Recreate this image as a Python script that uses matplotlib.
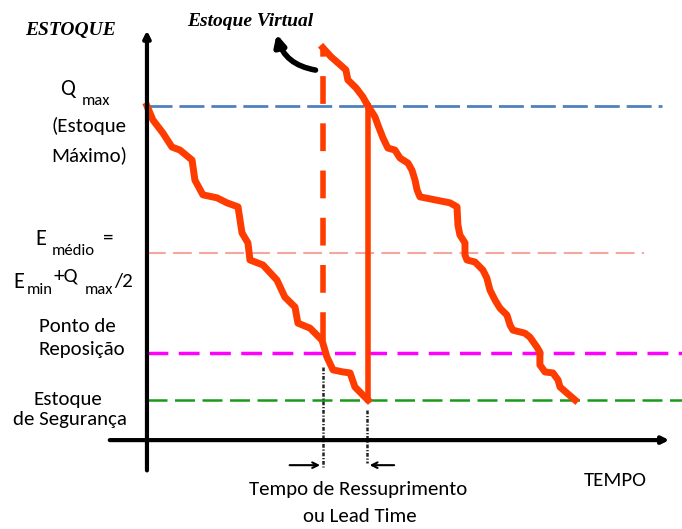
import matplotlib
matplotlib.use("Agg")
import matplotlib.pyplot as plt
import numpy as np

# niveis de estoque (Q max = 100)
q_max = 100
e_medio = 56
ponto_rep = 26
est_seg = 12
virtual_pico = 117.4

# tempo: 1o ciclo termina em 100, pedido em 79.6
t_pedido = 79.6
t_chegada = 100

# ciclo 1 (tempo, estoque)
c1_t = [0, 2.7, 7.2, 11.3, 14.9, 20.4, 21.7, 25.3, 31.7, 36.2, 41.2, 43.0, 45.7, 46.6,
        52.5, 58.8, 62.4, 67.0, 68.3, 73.8, 79.2, 81.4, 84.2, 88.7, 91.9, 94.1, 97.7, 100]
c1_s = [100, 95.8, 91.9, 87.7, 86.8, 83.8, 77.8, 73.4, 72.5, 71.0, 69.8, 62.0, 59.0, 53.9,
        52.4, 47.9, 42.8, 39.8, 35.0, 33.5, 29.9, 24.9, 21.0, 20.4, 20.1, 15.9, 13.5, 12.0]

# ciclo 2
c2_t = [100, 103.2, 104.5, 106.8, 109.0, 112.2, 114.5, 118.1, 119.9, 121.3, 122.2, 123.5,
        130.3, 137.1, 140.3, 140.7, 141.6, 143.9, 143.9, 144.8, 148.4, 152.0, 153.8, 155.2,
        157.5, 159.7, 162.9, 164.3, 165.6, 171.0, 173.3, 176.5, 177.8, 177.8, 180.1, 183.7,
        186.0, 186.9, 190.0, 193.7]
c2_s = [100, 96.7, 94.3, 90.4, 87.4, 86.8, 84.4, 82.9, 80.8, 77.8, 74.9, 72.8,
        71.9, 71.0, 69.8, 64.4, 61.4, 59.0, 55.4, 53.9, 53.3, 50.9, 48.5, 44.9,
        41.9, 39.5, 37.4, 34.4, 32.9, 32.0, 30.8, 27.8, 26.3, 22.5, 20.4, 20.1,
        18.0, 15.9, 14.1, 12.0]

# estoque virtual
v_t = [79.6, 83.3, 86.4, 90.0, 90.9, 94.6, 97.7, 100]
v_s = [117.4, 114.7, 112.9, 110.8, 107.8, 105.4, 102.7, 100]

W, H = 682, 529
fig = plt.figure(figsize=(W / 100, H / 100), dpi=100)
ax = fig.add_axes([0, 0, 1, 1])
ax.set_xlim(-66.5, 242.1)
ax.set_ylim(-26.6, 131.7)
ax.axis("off")

red = "#ff3c00"

# linhas de referencia
ax.plot([0, 233], [q_max, q_max], color="#4f81bd", lw=2, dashes=(9, 2.5))
ax.plot([0, 225], [e_medio, e_medio], color="#f4a6a0", lw=1.5, dashes=(9, 3.5))
ax.plot([0, 242], [ponto_rep, ponto_rep], color="#ff00ff", lw=2.5, dashes=(6, 3))
ax.plot([0, 242], [est_seg, est_seg], color="#1a9a1a", lw=1.8, dashes=(8, 3))

# eixos
ax.annotate("", xy=(0, 123.4), xytext=(0, -9.9),
            arrowprops=dict(arrowstyle="-|>", lw=3, color="black", mutation_scale=10))
ax.annotate("", xy=(237.6, 0), xytext=(-18.1, 0),
            arrowprops=dict(arrowstyle="-|>", lw=3, color="black", mutation_scale=10))

# dente de serra
ax.plot(c1_t, c1_s, color=red, lw=5, solid_joinstyle="round")
ax.plot([t_chegada, t_chegada], [est_seg, q_max], color=red, lw=4)
ax.plot(c2_t, c2_s, color=red, lw=5, solid_joinstyle="round")
ax.plot(v_t, v_s, color=red, lw=5, solid_joinstyle="round")
ax.plot([t_pedido, t_pedido], [ponto_rep + 4, virtual_pico], color=red, lw=4, dashes=(5, 3.5))

# lead time
ax.plot([t_pedido, t_pedido], [21.9, -8.1], color="#222222", lw=1.8, dashes=(1.5, 0.7, 0.5, 0.7))
ax.plot([t_chegada - 0.5, t_chegada - 0.5], [9, -6.9], color="#222222", lw=1.8, dashes=(1.5, 0.7, 0.5, 0.7))
ax.annotate("", xy=(t_pedido, -7.5), xytext=(63.3, -7.5),
            arrowprops=dict(arrowstyle="->", lw=1.5, color="black"))
ax.annotate("", xy=(t_chegada - 0.5, -7.5), xytext=(113.1, -7.5),
            arrowprops=dict(arrowstyle="->", lw=1.5, color="black"))

# seta do estoque virtual
ax.annotate("", xy=(58.4, 122.3), xytext=(77.5, 110.6),
            arrowprops=dict(arrowstyle="-|>", lw=4, color="black", mutation_scale=16,
                            connectionstyle="arc3,rad=-0.35"))

sans = ["Carlito", "DejaVu Sans"]
serif = ["Liberation Serif", "DejaVu Serif"]


def px(x, y):
    return x / W, 1 - y / H


def txt(x, y, s, size=15, fam=sans, weight="normal", **kw):
    fig.text(*px(x, y), s, fontsize=size, family=fam, weight=weight,
             ha="center", va="center", **kw)


txt(71, 31, "ESTOQUE", 14, serif, weight="bold", style="italic")
txt(250, 22, "Estoque Virtual", 14, serif, weight="bold", style="italic")

txt(68, 89, "Q", 16)
txt(96, 101, "max", 12)
txt(89, 126, "(Estoque")
txt(89, 155, "Máximo)")

txt(41, 239, "E", 16)
txt(73, 251, "médio", 12)
txt(108, 238, "=")
txt(19, 282, "E", 16)
txt(40, 290, "min", 12)
txt(66, 276, "+Q", 15)
txt(99, 290, "max", 12)
txt(123, 282, "/2", 15)

txt(77, 327, "Ponto de")
txt(82, 350, "Reposição")
txt(68, 399, "Estoque")
txt(70, 420, "de Segurança")

txt(358, 490, "Tempo de Ressuprimento")
txt(360, 517, "ou Lead Time")
txt(615, 480, "TEMPO")

fig.savefig("out.png", dpi=100)
